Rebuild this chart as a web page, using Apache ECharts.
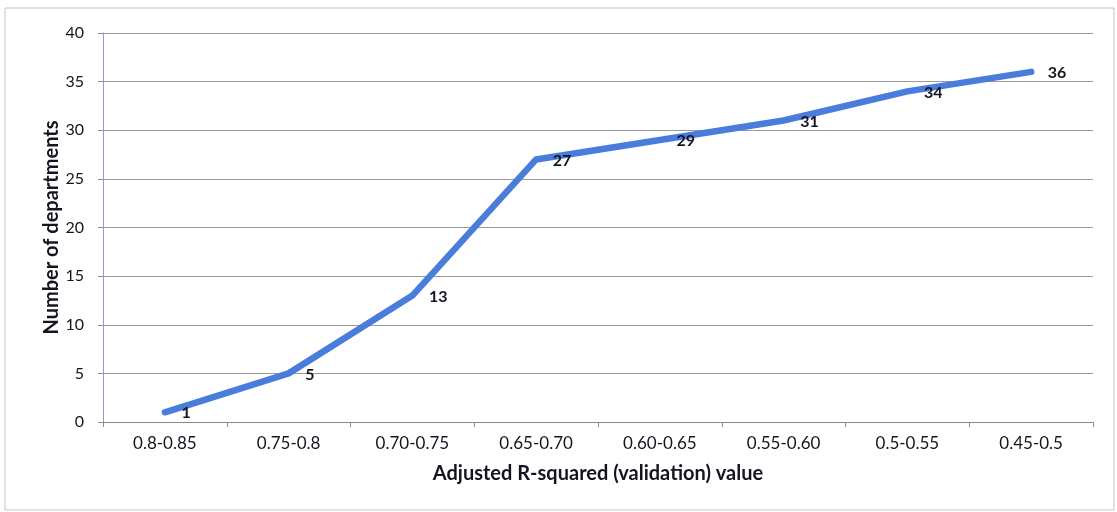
<!DOCTYPE html>
<html>
<head>
<meta charset="utf-8">
<script src="https://cdn.jsdelivr.net/npm/echarts@6/dist/echarts.min.js"></script>
<style>
  html, body { margin: 0; padding: 0; background: #fff; }
  #chart { width: 1117px; height: 512px; }
</style>
</head>
<body>
<div id="chart"></div>
<script>
// Adjusted R-squared bands, from best to worst
const categories = ['0.8-0.85', '0.75-0.8', '0.70-0.75', '0.65-0.70', '0.60-0.65', '0.55-0.60', '0.5-0.55', '0.45-0.5'];
// Cumulative number of departments
const departments = [1, 5, 13, 27, 29, 31, 34, 36];
const yTicks = { min: 0, max: 40, interval: 5 };

const FONT = 'Lato, "Open Sans", sans-serif';
const INK = '#15151f';
const chart = echarts.init(document.getElementById('chart'));

chart.setOption({
  animation: false,
  backgroundColor: '#fff',
  graphic: [{
    type: 'rect',
    shape: { x: 5, y: 8, width: 1109, height: 502 },
    style: { fill: 'none', stroke: '#c4c4c4', lineWidth: 1 },
    silent: true
  }],
  grid: { left: 103, right: 24, top: 33, bottom: 90, containLabel: false },
  xAxis: {
    type: 'category',
    data: categories,
    boundaryGap: true,
    name: 'Adjusted R-squared (validation) value',
    nameLocation: 'middle',
    nameGap: 42,
    nameMoveOverlap: false,
    nameTextStyle: { fontFamily: FONT, fontSize: 20, fontWeight: 'bold', color: INK },
    axisLine: { lineStyle: { color: '#8a8a8a', width: 1 } },
    axisTick: { show: true, alignWithLabel: false, length: 5, lineStyle: { color: '#8a8a8a' } },
    axisLabel: { fontFamily: FONT, fontSize: 17, color: INK, margin: 13 },
    splitLine: { show: false }
  },
  yAxis: {
    type: 'value',
    min: yTicks.min,
    max: yTicks.max,
    interval: yTicks.interval,
    name: 'Number of departments',
    nameLocation: 'middle',
    nameGap: 41,
    nameMoveOverlap: false,
    nameRotate: 90,
    nameTextStyle: { fontFamily: FONT, fontSize: 20, fontWeight: 'bold', color: INK },
    axisLine: { show: true, lineStyle: { color: '#9a9ac0', width: 1 } },
    axisTick: { show: true, length: 5, lineStyle: { color: '#8a8a8a' } },
    axisLabel: { fontFamily: FONT, fontSize: 16, color: INK, margin: 19 },
    splitLine: { show: true, lineStyle: { color: '#9a9a9a', width: 1 } }
  },
  series: [{
    type: 'line',
    data: departments,
    symbol: 'circle',
    symbolSize: 1,
    showSymbol: true,
    itemStyle: { color: '#4a7ddb' },
    lineStyle: { color: '#4a7ddb', width: 6.5, cap: 'round', join: 'round' },
    label: {
      show: true,
      position: 'right',
      distance: 16,
      offset: [0, 1],
      fontFamily: FONT,
      fontSize: 16,
      fontWeight: 'bold',
      color: INK
    }
  }]
});
</script>
</body>
</html>
